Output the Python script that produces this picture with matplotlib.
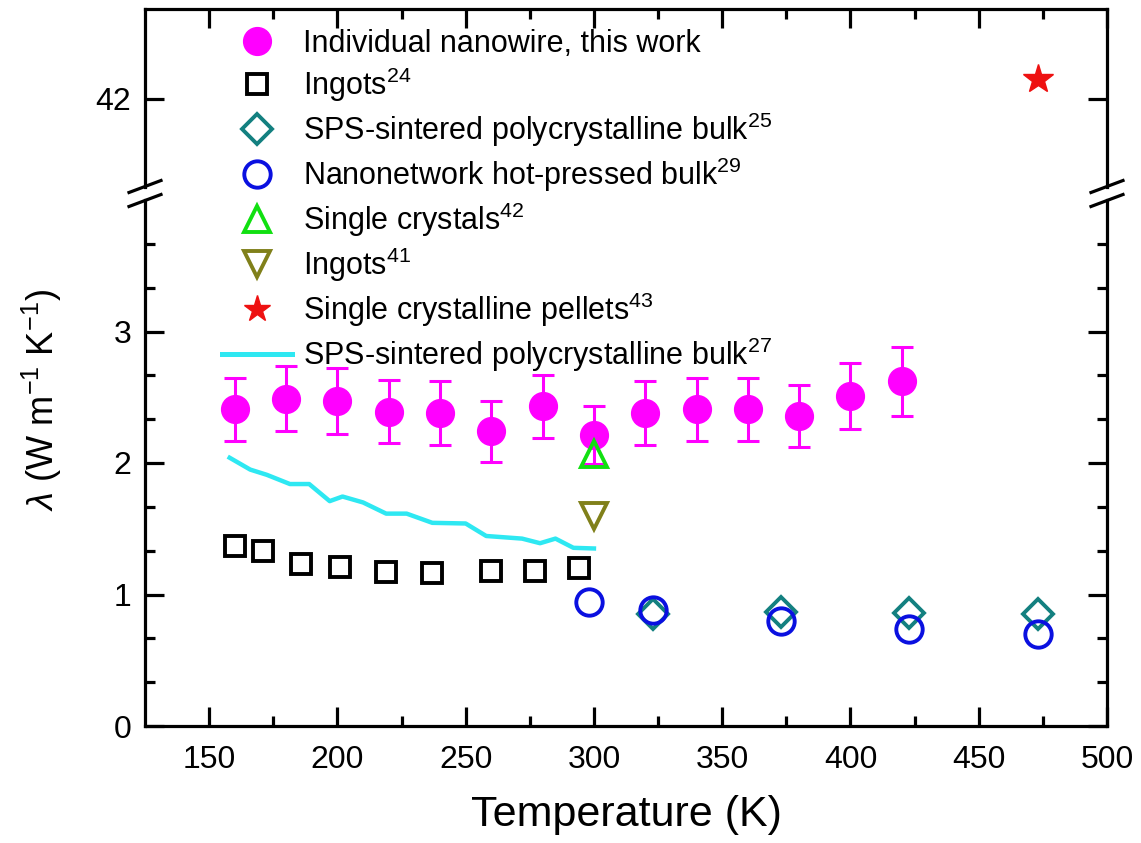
import matplotlib
matplotlib.use('Agg')
import matplotlib.pyplot as plt
from matplotlib.lines import Line2D

plt.rcParams['font.family'] = ['Liberation Sans', 'DejaVu Sans']
plt.rcParams['mathtext.fontset'] = 'custom'
plt.rcParams['mathtext.rm'] = 'Liberation Sans'
plt.rcParams['mathtext.it'] = 'Liberation Sans:italic'

# データ
nw_T = [160, 180, 200, 220, 240, 260, 280, 300, 320, 340, 360, 380, 400, 420]
nw_k = [2.41, 2.49, 2.47, 2.39, 2.38, 2.24, 2.43, 2.21, 2.38, 2.41, 2.41, 2.36, 2.51, 2.62]
nw_err = [0.24, 0.25, 0.25, 0.24, 0.24, 0.23, 0.24, 0.22, 0.24, 0.24, 0.24, 0.235, 0.25, 0.26]

ing24_T = [160, 171, 186, 201, 219, 237, 260, 277, 294]
ing24_k = [1.37, 1.33, 1.235, 1.21, 1.17, 1.165, 1.18, 1.18, 1.20]

sps25_T = [323, 373, 423, 473]
sps25_k = [0.85, 0.87, 0.86, 0.85]

nano29_T = [298, 323, 373, 423, 473]
nano29_k = [0.94, 0.88, 0.80, 0.74, 0.70]

sc42_T = [300]
sc42_k = [2.07]

ing41_T = [300]
ing41_k = [1.60]

pel43_T = [473]
pel43_k = [42.15]

sps27_T = [158, 166, 172.5, 181.5, 189, 197, 202, 210, 219, 227, 237, 250, 258, 272, 279, 285, 292, 300]
sps27_k = [2.04, 1.95, 1.91, 1.84, 1.84, 1.71, 1.745, 1.70, 1.615, 1.615, 1.545, 1.54, 1.445,
           1.425, 1.39, 1.425, 1.355, 1.35]

labels = ['Individual nanowire, this work', 'Ingots$^{24}$',
          'SPS-sintered polycrystalline bulk$^{25}$', 'Nanonetwork hot-pressed bulk$^{29}$',
          'Single crystals$^{42}$', 'Ingots$^{41}$', 'Single crystalline pellets$^{43}$',
          'SPS-sintered polycrystalline bulk$^{27}$']

c_mag = '#ff00ff'
c_sq = 'black'
c_dia = '#138080'
c_circ = '#0a10e0'
c_tri = '#11e011'
c_dtri = '#80801a'
c_star = '#ee1111'
c_line = '#2ee8f2'

W, H = 1141, 843
fig = plt.figure(figsize=(W / 100, H / 100), dpi=100)
fig.patch.set_facecolor('white')

left, right = 145, 1107
lo_top, lo_bot = 200, 726
up_top, up_bot = 9, 187
ax = fig.add_axes([left / W, 1 - lo_bot / H, (right - left) / W, (lo_bot - lo_top) / H])
axu = fig.add_axes([left / W, 1 - up_bot / H, (right - left) / W, (up_bot - up_top) / H], sharex=ax)

lw = 2.3
for a in (ax, axu):
    a.set_xlim(125, 500)
    for s in a.spines.values():
        s.set_linewidth(lw)
ax.spines['top'].set_visible(False)
axu.spines['bottom'].set_visible(False)

ax.set_ylim(0, 4.0)
axu.set_ylim(41.331, 42.684)

# マーカーの書式
sq_kw = dict(marker='s', ms=15, mfc='none', mec=c_sq, mew=2.8, ls='none')
dia_kw = dict(marker='D', ms=15, mfc='none', mec=c_dia, mew=2.8, ls='none')
circ_kw = dict(marker='o', ms=19, mfc='none', mec=c_circ, mew=2.8, ls='none')
tri_kw = dict(marker='^', ms=19, mfc='none', mec=c_tri, mew=2.8, ls='none')
dtri_kw = dict(marker='v', ms=19, mfc='none', mec=c_dtri, mew=2.8, ls='none')

# 下段
ax.plot(sps27_T, sps27_k, color=c_line, lw=3.2, zorder=2)
ax.errorbar(nw_T, nw_k, yerr=nw_err, fmt='o', ms=20, color=c_mag, ecolor=c_mag,
            elinewidth=2.2, capsize=8, capthick=2.2, zorder=3)
ax.plot(ing24_T, ing24_k, **sq_kw)
ax.plot(sps25_T, sps25_k, **dia_kw)
ax.plot(nano29_T, nano29_k, **circ_kw)
ax.plot(sc42_T, sc42_k, zorder=4, **tri_kw)
ax.plot(ing41_T, ing41_k, **dtri_kw)
# 上段
axu.plot(pel43_T, pel43_k, marker='*', ms=22, color=c_star, ls='none')

# 目盛り
ax.set_xticks([150, 200, 250, 300, 350, 400, 450, 500])
ax.set_xticks(range(175, 500, 50), minor=True)
ax.set_yticks([0, 1, 2, 3])
ax.set_yticks([1 / 3, 2 / 3, 4 / 3, 5 / 3, 7 / 3, 8 / 3, 10 / 3, 11 / 3], minor=True)
ax.tick_params(which='both', direction='in', width=lw, labelsize=23, top=False, right=True, pad=10)
ax.tick_params(axis='x', pad=14)
ax.tick_params(which='major', length=14)
ax.tick_params(which='minor', length=7)

axu.set_yticks([42])
axu.tick_params(which='both', direction='in', width=lw, labelsize=23, top=True, bottom=False,
                right=True, labelbottom=False, pad=10)
axu.tick_params(which='major', length=14)
axu.tick_params(which='minor', length=7)
axu.tick_params(axis='y', which='minor', left=False, right=False)

ax.set_xlabel('Temperature (K)', fontsize=31, labelpad=14)
fig.text(42 / W, 1 - 400 / H, r'$\lambda$ (W m$^{-1}$ K$^{-1}$)', rotation=90,
         fontsize=26, ha='center', va='center')

# 軸の切れ目
gap_y = (up_bot + lo_top) / 2
for xs in (left, right):
    for dy in (-7, 7):
        y0 = gap_y + dy + 6
        y1 = gap_y + dy - 6
        fig.add_artist(Line2D([(xs - 16) / W, (xs + 16) / W], [1 - y0 / H, 1 - y1 / H],
                              color='black', lw=2.3, transform=fig.transFigure))

# 凡例
handles = [
    Line2D([], [], marker='o', ms=20, color=c_mag, ls='none'),
    Line2D([], [], **sq_kw),
    Line2D([], [], **dia_kw),
    Line2D([], [], **circ_kw),
    Line2D([], [], **tri_kw),
    Line2D([], [], **dtri_kw),
    Line2D([], [], marker='*', ms=20, color=c_star, ls='none'),
    Line2D([], [], color=c_line, lw=3.6),
]
fig.legend(handles, labels, loc='upper left', bbox_to_anchor=(222 / W, 1 - 29 / H),
           frameon=False, fontsize=22, handlelength=2.3, handletextpad=0.35,
           labelspacing=0.22, borderpad=0, borderaxespad=0)

fig.savefig('out.png', dpi=100, facecolor='white')
